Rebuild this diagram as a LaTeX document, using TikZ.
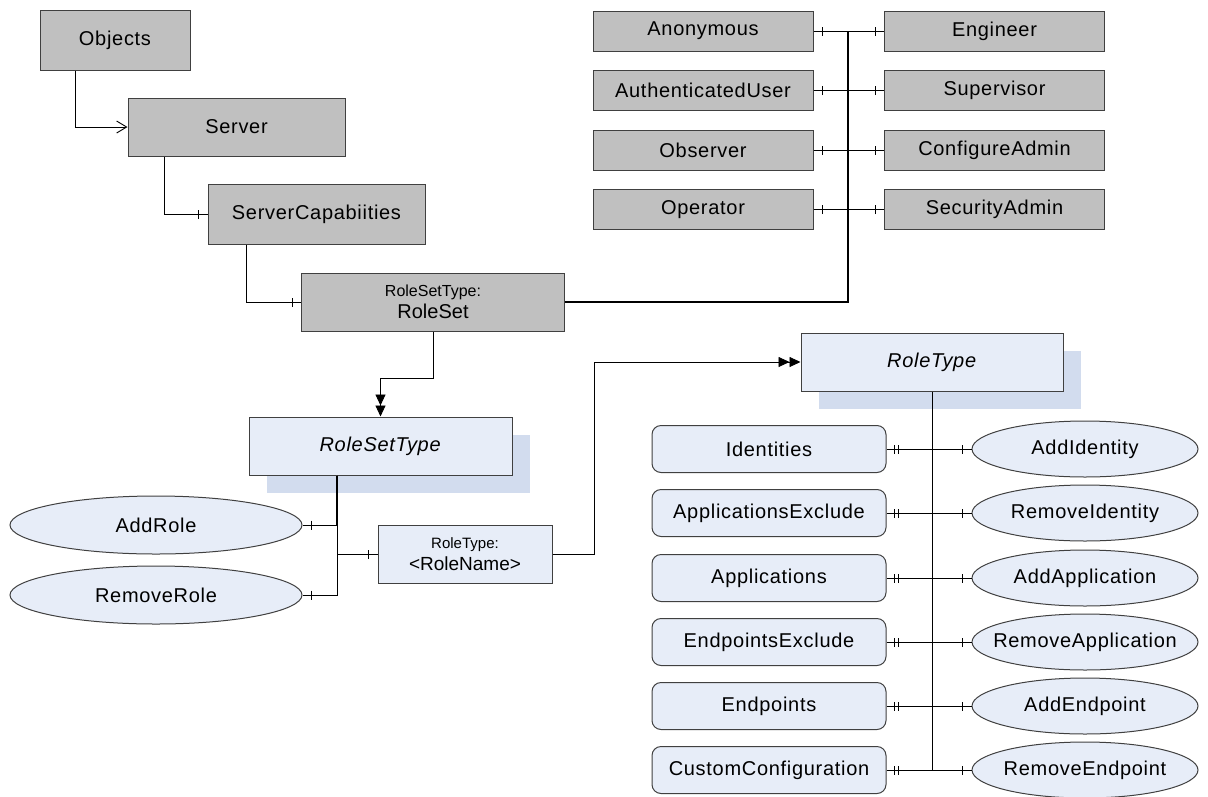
\documentclass[tikz,border=0pt]{standalone}
\usepackage{fontspec}
\setmainfont{Liberation Sans}[LetterSpace=3.5]
\newfontfamily\plainsans{Liberation Sans}
\usetikzlibrary{arrows.meta,positioning,shapes.geometric,decorations.markings,shadows}

\definecolor{boxgray}{HTML}{C0C0C0}
\definecolor{paleblue}{HTML}{E7EDF8}
\definecolor{shadeblue}{HTML}{D2DCEE}
\definecolor{rim}{HTML}{404040}

\begin{document}
\begin{tikzpicture}[
    x=1pt, y=-1pt,
    >={Triangle[length=11pt,width=10pt]},
    every node/.style={font=\fontsize{20pt}{23pt}\selectfont},
    obj/.style={
        rectangle, draw=rim, line width=1pt,
        fill=boxgray, inner sep=0pt
    },
    typ/.style={
        rectangle, draw=rim, line width=1pt,
        fill=paleblue, inner sep=0pt,
        minimum width=263pt, minimum height=58pt,
        general shadow={fill=shadeblue, shadow xshift=18pt, shadow yshift=-18pt}
    },
    prop/.style={
        rectangle, rounded corners=9pt, draw=rim, line width=1pt,
        fill=paleblue, inner sep=0pt,
        minimum width=234pt, minimum height=47pt
    },
    meth/.style={
        ellipse, draw=rim, line width=1pt,
        fill=paleblue, inner xsep=-50pt, inner ysep=0pt,
        minimum width=226pt, minimum height=56pt
    },
    role/.style={obj, minimum width=220pt, minimum height=40pt},
    link/.style={draw=black, line width=0.9pt},
    trunk/.style={draw=black, line width=2pt},
    tickend/.style={postaction={decorate},
        decoration={markings,
            mark=at position -9pt with {\draw[line width=0.9pt] (0,-4.5pt) -- (0,4.5pt);}}},
    tickboth/.style={postaction={decorate},
        decoration={markings,
            mark=at position 9pt with {\draw[line width=0.9pt] (0,-4.5pt) -- (0,4.5pt);},
            mark=at position -9pt with {\draw[line width=0.9pt] (0,-4.5pt) -- (0,4.5pt);}}},
    tickpair/.style={postaction={decorate},
        decoration={markings,
            mark=at position 8pt with {\draw[line width=0.9pt] (0,-4.5pt) -- (0,4.5pt);},
            mark=at position 12pt with {\draw[line width=0.9pt] (0,-4.5pt) -- (0,4.5pt);},
            mark=at position -9pt with {\draw[line width=0.9pt] (0,-4.5pt) -- (0,4.5pt);}}}
]
    \useasboundingbox (0,0) rectangle (1208,796);

    % Object chain
    \node[obj, minimum width=150pt, minimum height=60pt] (objects) at (115,40) {Objects};
    \node[obj, minimum width=217pt, minimum height=58pt] (server) at (236.5,127) {Server};
    \node[obj, minimum width=217pt, minimum height=60pt] (caps) at (316.5,214) {ServerCapabiities};
    \node[obj, minimum width=263pt, minimum height=58pt, align=center] (roleset) at (433,302)
        {{\plainsans\fontsize{16pt}{18pt}\selectfont RoleSetType:}\\[-1pt]
         {\plainsans\fontsize{20pt}{22pt}\selectfont RoleSet}};

    % Well-known roles
    \node[role] (anon)  at (703,31) {Anonymous};
    \node[role] (auth)  [below=18.5pt of anon] {AuthenticatedUser};
    \node[role] (obs)   [below=18.5pt of auth] {Observer};
    \node[role] (oper)  [below=18.5pt of obs]  {Operator};
    \node[role] (eng)   at (994.5,31) {Engineer};
    \node[role] (sup)   [below=18.5pt of eng] {Supervisor};
    \node[role] (cfg)   [below=18.5pt of sup] {ConfigureAdmin};
    \node[role] (sec)   [below=18.5pt of cfg] {SecurityAdmin};
    \coordinate (hub) at (848,31);

    % Types
    \node[typ] (rst) at (380.5,446) {\textit{RoleSetType}};
    \node[typ, minimum width=262pt] (roletype) at (932,362) {\textit{RoleType}};
    \node[rectangle, draw=rim, line width=1pt, fill=paleblue, inner sep=0pt,
          minimum width=174pt, minimum height=58pt, align=center] (rolename) at (465,554)
        {{\plainsans\fontsize{15pt}{17pt}\selectfont RoleType:}\\[-1pt]
         {\plainsans\fontsize{19pt}{21pt}\selectfont <RoleName>}};

    % RoleSetType methods
    \node[meth, minimum width=292pt, minimum height=58pt] (addrole) at (156,525) {AddRole};
    \node[meth, minimum width=292pt, minimum height=58pt] (remrole) at (156,595) {RemoveRole};

    % RoleType properties and methods
    \node[prop] (ident)  at (769,449) {Identities};
    \node[prop] (appex)  at (769,513) {ApplicationsExclude};
    \node[prop] (apps)   at (769,578) {Applications};
    \node[prop] (epex)   at (769,642) {EndpointsExclude};
    \node[prop] (eps)    at (769,706) {Endpoints};
    \node[prop] (custom) at (769,770) {CustomConfiguration};
    \node[meth] (addid)  at (1085,449) {AddIdentity};
    \node[meth] (remid)  at (1085,513) {RemoveIdentity};
    \node[meth] (addapp) at (1085,578) {AddApplication};
    \node[meth] (remapp) at (1085,642) {RemoveApplication};
    \node[meth] (addep)  at (1085,706) {AddEndpoint};
    \node[meth] (remep)  at (1085,770) {RemoveEndpoint};

    % Edges
    \draw[link, -{Straight Barb[length=10pt,width=12pt]}] ([xshift=-40pt]objects.south) |- (server);
    \draw[link, tickend] ([xshift=-72.5pt]server.south) |- (caps);
    \draw[link, tickend] ([xshift=-70.5pt]caps.south) |- (roleset);
    \draw[link, ->>] (roleset.south) -- ++(0,47) -| (rst);
    \draw[trunk] (roleset.east) -| (hub);
    \draw[trunk] (hub) -- (hub |- oper);
    \draw[link, tickboth] (anon) -- (eng);
    \draw[link, tickboth] (auth) -- (sup);
    \draw[link, tickboth] (obs)  -- (cfg);
    \draw[link, tickboth] (oper) -- (sec);

    \draw[link, line width=1.4pt] ([xshift=-43.5pt]rst.south) -- ++(0,49);
    \draw[link, tickend] ([xshift=-43.5pt]rst.south) |- (addrole);
    \draw[link, tickend] ([xshift=-43.5pt]rst.south) |- (remrole);
    \draw[link, tickend] ([xshift=-43.5pt]rst.south) |- (rolename);
    \draw[link, ->>] (rolename.east) -- ++(42,0) |- (roletype);

    \draw[link] (roletype.south) -- (roletype.south |- custom);
    \draw[link, tickpair] (ident)  -- (addid);
    \draw[link, tickpair] (appex)  -- (remid);
    \draw[link, tickpair] (apps)   -- (addapp);
    \draw[link, tickpair] (epex)   -- (remapp);
    \draw[link, tickpair] (eps)    -- (addep);
    \draw[link, tickpair] (custom) -- (remep);

\end{tikzpicture}
\end{document}
